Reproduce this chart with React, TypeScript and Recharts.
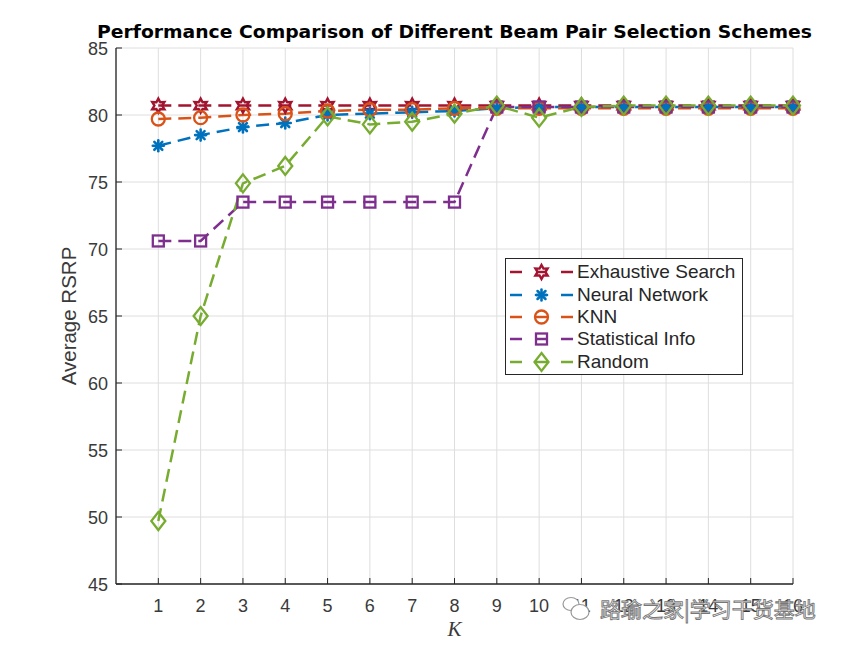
import React from 'react';
import { LineChart, Line, XAxis, YAxis, CartesianGrid } from 'recharts';

const kValues = [1, 2, 3, 4, 5, 6, 7, 8, 9, 10, 11, 12, 13, 14, 15, 16];
const exhaustiveSearch = [80.7, 80.7, 80.7, 80.7, 80.7, 80.7, 80.7, 80.7, 80.7, 80.7, 80.7, 80.7, 80.7, 80.7, 80.7, 80.7];
const neuralNetwork = [77.7, 78.5, 79.1, 79.4, 80.0, 80.1, 80.2, 80.3, 80.5, 80.6, 80.6, 80.6, 80.6, 80.6, 80.6, 80.6];
const knn = [79.7, 79.8, 80.0, 80.1, 80.3, 80.4, 80.4, 80.5, 80.5, 80.5, 80.5, 80.5, 80.5, 80.5, 80.5, 80.5];
const statisticalInfo = [70.6, 70.6, 73.5, 73.5, 73.5, 73.5, 73.5, 73.5, 80.6, 80.6, 80.6, 80.6, 80.6, 80.6, 80.6, 80.6];
const random = [49.7, 65.0, 74.9, 76.2, 79.9, 79.3, 79.5, 80.1, 80.7, 79.8, 80.6, 80.7, 80.7, 80.7, 80.7, 80.7];

const yTicks = [45, 50, 55, 60, 65, 70, 75, 80, 85];
const seriesNames = ['Exhaustive Search', 'Neural Network', 'KNN', 'Statistical Info', 'Random'];
const seriesKeys = ['exhaustive', 'neural', 'knn', 'stat', 'random'];
const seriesColors = ['#A2142F', '#0072BD', '#D95319', '#7E2F8E', '#77AC30'];
const seriesMarkers = ['hexagram', 'asterisk', 'circle', 'square', 'diamond'];

const title = 'Performance Comparison of Different Beam Pair Selection Schemes';
const xLabel = 'K';
const yLabel = 'Average RSRP';
const watermark = '路瑜之家|学习干货基地';

const data = kValues.map((k, i) => ({
  k,
  exhaustive: exhaustiveSearch[i],
  neural: neuralNetwork[i],
  knn: knn[i],
  stat: statisticalInfo[i],
  random: random[i],
}));

const FONT = '"Liberation Sans", Arial, Helvetica, sans-serif';
const AXIS = '#262626';
const TICK_TEXT = '#3a3a3a';

function Marker({ type, cx, cy, color }: { type: string; cx: number; cy: number; color: string }) {
  const sw = 2.3;
  if (type === 'hexagram') {
    const ro = 7, ri = 3.9;
    const pts: string[] = [];
    for (let i = 0; i < 12; i++) {
      const a = -Math.PI / 2 + (i * Math.PI) / 6;
      const r = i % 2 === 0 ? ro : ri;
      pts.push(`${cx + r * Math.cos(a)},${cy + r * Math.sin(a)}`);
    }
    return <polygon points={pts.join(' ')} fill="none" stroke={color} strokeWidth={2.4} strokeLinejoin="miter" />;
  }
  if (type === 'asterisk') {
    const r = 5.5;
    const d = r * 0.72;
    return (
      <g stroke={color} strokeWidth={2.6} strokeLinecap="round">
        <line x1={cx - r} y1={cy} x2={cx + r} y2={cy} />
        <line x1={cx} y1={cy - r} x2={cx} y2={cy + r} />
        <line x1={cx - d} y1={cy - d} x2={cx + d} y2={cy + d} />
        <line x1={cx - d} y1={cy + d} x2={cx + d} y2={cy - d} />
      </g>
    );
  }
  if (type === 'circle') {
    return <circle cx={cx} cy={cy} r={6.5} fill="none" stroke={color} strokeWidth={sw} />;
  }
  if (type === 'square') {
    return <rect x={cx - 5.5} y={cy - 5.5} width={11} height={11} fill="none" stroke={color} strokeWidth={sw} />;
  }
  return (
    <polygon
      points={`${cx},${cy - 9} ${cx + 7},${cy} ${cx},${cy + 9} ${cx - 7},${cy}`}
      fill="none"
      stroke={color}
      strokeWidth={sw}
    />
  );
}

const makeDot = (type: string, color: string) => (props: any) => {
  const { cx, cy, index } = props;
  if (cx == null || cy == null) return <g key={`d-${index}`} />;
  return (
    <g key={`d-${type}-${index}`}>
      <Marker type={type} cx={cx} cy={cy} color={color} />
    </g>
  );
};

const BottomTick = (props: any) => {
  const { x, y, payload } = props;
  return (
    <g>
      <line x1={x} y1={y} x2={x} y2={y - 6} stroke={AXIS} strokeWidth={1} />
      <text x={x} y={y + 28} textAnchor="middle" fontSize={18} fontFamily={FONT} fill={TICK_TEXT}>
        {payload.value}
      </text>
    </g>
  );
};

const TopTick = (props: any) => {
  const { x, y } = props;
  return <line x1={x} y1={y} x2={x} y2={y + 6} stroke={AXIS} strokeWidth={1} />;
};

const LeftTick = (props: any) => {
  const { x, y, payload } = props;
  return (
    <g>
      <line x1={x} y1={y} x2={x + 6} y2={y} stroke={AXIS} strokeWidth={1} />
      <text x={x - 8} y={y + 6.5} textAnchor="end" fontSize={18} fontFamily={FONT} fill={TICK_TEXT}>
        {payload.value}
      </text>
    </g>
  );
};

const RightTick = (props: any) => {
  const { x, y } = props;
  return <line x1={x} y1={y} x2={x - 6} y2={y} stroke={AXIS} strokeWidth={1} />;
};

const YLabel = (props: any) => {
  const vb = props.viewBox || { x: 0, y: 48, width: 116, height: 536 };
  const cx = vb.x + 68;
  const cy = vb.y + vb.height / 2;
  return (
    <text
      x={cx}
      y={cy}
      transform={`rotate(-90, ${cx}, ${cy})`}
      textAnchor="middle"
      dominantBaseline="central"
      fontSize={20.5}
      fontFamily={FONT}
      fill={TICK_TEXT}
    >
      {yLabel}
    </text>
  );
};

const XLabel = (props: any) => {
  const vb = props.viewBox || { x: 116, y: 584, width: 677, height: 66 };
  const cx = vb.x + vb.width / 2;
  return (
    <text
      x={cx}
      y={vb.y + 52}
      textAnchor="middle"
      fontSize={21}
      fontStyle="italic"
      fontFamily='"Liberation Serif", "Times New Roman", serif'
      fill={TICK_TEXT}
    >
      {xLabel}
    </text>
  );
};

function LegendBox() {
  return (
    <div
      style={{
        position: 'absolute',
        left: 505,
        top: 258,
        width: 238,
        height: 117,
        border: `1px solid ${AXIS}`,
        background: '#fff',
        boxSizing: 'border-box',
        paddingTop: 2,
      }}
    >
      {seriesNames.map((name, i) => (
        <div key={name} style={{ display: 'flex', alignItems: 'center', height: 22.4 }}>
          <svg width={70} height={22} style={{ display: 'block', flex: 'none' }}>
            <line x1={4} y1={11} x2={16} y2={11} stroke={seriesColors[i]} strokeWidth={2.5} />
            <line x1={55} y1={11} x2={67} y2={11} stroke={seriesColors[i]} strokeWidth={2.5} />
            <line x1={30} y1={11} x2={41} y2={11} stroke={seriesColors[i]} strokeWidth={2.5} />
            <Marker type={seriesMarkers[i]} cx={35.5} cy={11} color={seriesColors[i]} />
          </svg>
          <span style={{ fontFamily: FONT, fontSize: 19, color: '#262626', whiteSpace: 'nowrap', marginLeft: 1 }}>
            {name}
          </span>
        </div>
      ))}
    </div>
  );
}

export default function App() {
  return (
    <div style={{ position: 'absolute', left: 0, top: 0, width: 843, height: 650, background: '#fff' }}>
      <LineChart width={843} height={650} data={data} margin={{ top: 48, right: 50, bottom: 0, left: 0 }}>
        <CartesianGrid stroke="#dedede" strokeWidth={1} />
        <XAxis
          dataKey="k"
          type="number"
          domain={[0, 16]}
          ticks={kValues}
          height={66}
          tickSize={0}
          tickMargin={0}
          interval={0}
          axisLine={{ stroke: AXIS, strokeWidth: 1.3 }}
          tickLine={false}
          tick={<BottomTick />}
          label={<XLabel />}
        />
        <XAxis
          xAxisId="top"
          orientation="top"
          dataKey="k"
          type="number"
          domain={[0, 16]}
          ticks={kValues}
          height={0}
          tickSize={0}
          tickMargin={0}
          interval={0}
          axisLine={{ stroke: AXIS, strokeWidth: 1.3 }}
          tickLine={false}
          tick={<TopTick />}
        />
        <YAxis
          type="number"
          domain={[45, 85]}
          ticks={yTicks}
          width={116}
          tickSize={0}
          tickMargin={0}
          interval={0}
          axisLine={{ stroke: AXIS, strokeWidth: 1.3 }}
          tickLine={false}
          tick={<LeftTick />}
          label={<YLabel />}
        />
        <YAxis
          yAxisId="right"
          orientation="right"
          type="number"
          domain={[45, 85]}
          ticks={yTicks}
          width={0}
          tickSize={0}
          tickMargin={0}
          interval={0}
          axisLine={{ stroke: AXIS, strokeWidth: 1.3 }}
          tickLine={false}
          tick={<RightTick />}
        />
        {seriesKeys.map((key, i) => (
          <Line
            key={key}
            dataKey={key}
            name={seriesNames[i]}
            type="linear"
            stroke={seriesColors[i]}
            strokeWidth={2.5}
            strokeDasharray="13 7"
            dot={makeDot(seriesMarkers[i], seriesColors[i])}
            activeDot={false}
            isAnimationActive={false}
          />
        ))}
      </LineChart>
      <svg
        width={843}
        height={650}
        style={{ position: 'absolute', left: 0, top: 0, pointerEvents: 'none' }}
      >
        <text
          x={454.5}
          y={38}
          textAnchor="middle"
          fontSize={18}
          fontWeight="bold"
          fontFamily='"DejaVu Sans", Verdana, sans-serif'
          fill="#000"
          textLength={715}
          lengthAdjust="spacingAndGlyphs"
        >
          {title}
        </text>
        <g fill="none" stroke="#999" strokeWidth={1.2}>
          <ellipse cx={571} cy={604} rx={8} ry={6.5} fill="#fff" />
          <ellipse cx={580} cy={612} rx={9} ry={7.5} fill="#fff" />
        </g>
        <text
          x={600}
          y={617}
          fontSize={21}
          fontFamily='"Noto Sans CJK SC", sans-serif'
          fill="#fff"
          stroke="#777"
          strokeWidth={0.9}
        >
          {watermark}
        </text>
      </svg>
      <LegendBox />
    </div>
  );
}
